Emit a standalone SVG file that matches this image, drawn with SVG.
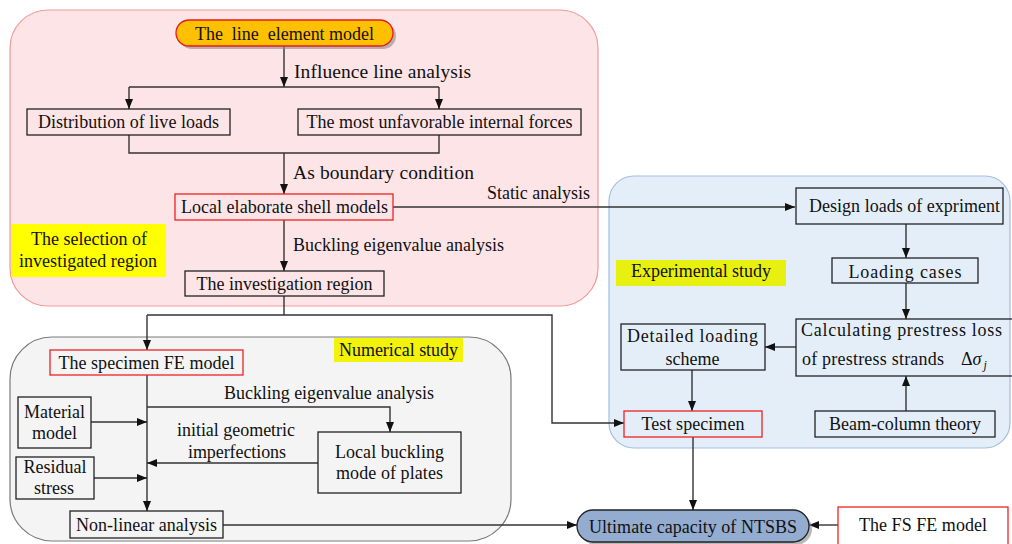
<svg xmlns="http://www.w3.org/2000/svg" width="1012" height="544" viewBox="0 0 1012 544">
<style>
text{font-family:"Liberation Serif","Times New Roman",serif;font-size:18px;fill:#111;}
.m{text-anchor:middle;}
.big{font-size:19.5px;}
.box{fill:none;stroke:#222;stroke-width:1.3;}
.wbox{fill:#f7f7f7;stroke:#222;stroke-width:1.3;}
.rbox{fill:none;stroke:#ee2222;stroke-width:1.3;}
.hl{fill:#ffff00;}
.c{fill:none;stroke:#333;stroke-width:1.4;}
.a{marker-end:url(#ah);}
</style>
<defs>
<marker id="ah" markerUnits="userSpaceOnUse" markerWidth="11" markerHeight="9" refX="10" refY="4" orient="auto">
<path d="M0,0 L10,4 L0,8 z" fill="#111"/>
</marker>
</defs>
<g id="regions">
<rect x="10" y="10" width="588" height="296" rx="38" fill="#fde4e6" stroke="#f29a9a" stroke-width="1.2"/>
<rect x="609" y="176" width="401" height="272" rx="25" fill="#e4eef8" stroke="#a4bfdf" stroke-width="1.2"/>
<rect x="10" y="337" width="501" height="204" rx="42" fill="#f4f4f4" stroke="#7a7a7a" stroke-width="1.2"/>
</g>
<g id="labels">
<rect class="hl" x="11" y="224" width="155" height="53"/>
<text class="m" x="89" y="245" textLength="116">The selection of</text>
<text class="m" x="88" y="267" textLength="138">investigated region</text>
<rect x="334" y="338" width="129" height="24" fill="#f2f20a"/>
<text class="m" x="398.5" y="356" textLength="119">Numerical study</text>
<rect x="616" y="260" width="170" height="26" fill="#e8f00f"/>
<text class="m" x="701" y="277" textLength="140">Experimental study</text>
</g>
<g id="connectors">
<path class="c a" d="M284 46 V87"/>
<path class="c" d="M129 87 H439"/>
<path class="c a" d="M129 87 V109"/>
<path class="c a" d="M439 87 V109"/>
<path class="c" d="M129 135 V153 H439 V135"/>
<path class="c a" d="M284 153 V194"/>
<path class="c a" d="M393 207 H795"/>
<path class="c a" d="M284 220 V271"/>
<path class="c" d="M284 296 V315"/>
<path class="c a" d="M147 315 H552 V423 H624"/>
<path class="c a" d="M147 315 V350"/>
<path class="c a" d="M147 375 V511"/>
<path class="c a" d="M147 407 H390 V432"/>
<path class="c a" d="M91 422 H147"/>
<path class="c a" d="M94 478 H147"/>
<path class="c a" d="M318 463 H147"/>
<path class="c a" d="M223 525 H577"/>
<path class="c a" d="M906 224 V258"/>
<path class="c a" d="M906 283 V319"/>
<path class="c a" d="M906 411 V376"/>
<path class="c a" d="M796 347 H765"/>
<path class="c a" d="M692 370 V411"/>
<path class="c a" d="M693 437 V510"/>
<path class="c a" d="M838 525 H809"/>
<text x="294" y="77.5" class="big" textLength="177">Influence line analysis</text>
<text x="293" y="178.5" class="big" textLength="181">As boundary condition</text>
<text x="487" y="199" textLength="103">Static analysis</text>
<text x="293" y="251" textLength="211">Buckling eigenvalue analysis</text>
<text x="224" y="399" textLength="210">Buckling eigenvalue analysis</text>
<text class="m" x="236" y="436" textLength="118">initial geometric</text>
<text class="m" x="237" y="458" textLength="98">imperfections</text>
</g>
<g id="n-line">
<rect x="179" y="23" width="217" height="26" rx="13" fill="#8a8a8a" opacity="0.6"/>
<rect x="176" y="20" width="217" height="26" rx="13" fill="#ffc000" stroke="#e81b1b" stroke-width="1.3"/>
<text class="m" x="284.5" y="39.5" style="white-space:pre" font-size="19" textLength="179">The  line  element model</text>
</g>
<g id="n-dist">
<rect class="box" x="27" y="109" width="203" height="26"/>
<text class="m" x="128.5" y="128" textLength="181">Distribution of live loads</text>
</g>
<g id="n-unfav">
<rect class="box" x="298" y="109" width="283" height="26"/>
<text class="m" x="439.5" y="128" textLength="266">The most unfavorable internal forces</text>
</g>
<g id="n-shell">
<rect class="rbox" x="175" y="194" width="218" height="26"/>
<text class="m" x="284.5" y="213" textLength="207">Local elaborate shell models</text>
</g>
<g id="n-region">
<rect class="box" x="185" y="271" width="199" height="25"/>
<text class="m" x="284.5" y="289.5" textLength="176">The investigation region</text>
</g>
<g id="n-specimen-fe">
<rect class="rbox" x="50" y="350" width="193" height="25"/>
<text class="m" x="146.5" y="368.5" textLength="176">The specimen FE model</text>
</g>
<g id="n-material">
<rect class="box" x="18" y="397" width="73" height="51"/>
<text class="m" x="54.5" y="418" textLength="61">Material</text>
<text class="m" x="54.5" y="439" textLength="45">model</text>
</g>
<g id="n-residual">
<rect class="box" x="16" y="457" width="78" height="42"/>
<text class="m" x="55" y="473" textLength="63">Residual</text>
<text class="m" x="54" y="494" textLength="40">stress</text>
</g>
<g id="n-local-buckling">
<rect class="box" x="318" y="432" width="143" height="61"/>
<text class="m" x="389.5" y="458" textLength="109">Local buckling</text>
<text class="m" x="389.5" y="479" textLength="107">mode of plates</text>
</g>
<g id="n-nonlinear">
<rect class="box" x="70" y="511" width="153" height="27"/>
<text class="m" x="146.5" y="531" textLength="141">Non-linear analysis</text>
</g>
<g id="n-design">
<rect class="box" x="796" y="188" width="207" height="36"/>
<text class="m" x="904.5" y="212" textLength="191">Design loads of expriment</text>
</g>
<g id="n-cases">
<rect class="box" x="832" y="258" width="146" height="25"/>
<text class="m" x="905" y="277.5" font-size="20" textLength="113">Loading cases</text>
</g>
<g id="n-calc">
<rect class="box" x="796" y="319" width="220" height="57"/>
<text x="801" y="335.5" font-size="19" textLength="201">Calculating prestress loss</text>
<text x="802" y="365" font-size="19" textLength="142">of prestress strands</text>
<text x="961" y="365" font-size="19">Δ<tspan font-style="italic">σ</tspan><tspan font-style="italic" font-size="12" dy="4" dx="2">j</tspan></text>
</g>
<g id="n-detailed">
<rect class="box" x="621" y="324" width="144" height="46"/>
<text class="m" x="692.5" y="341.5" textLength="131">Detailed loading</text>
<text class="m" x="692.5" y="365">scheme</text>
</g>
<g id="n-test">
<rect class="rbox" x="624" y="411" width="138" height="26"/>
<text class="m" x="693" y="429.5" textLength="103">Test specimen</text>
</g>
<g id="n-beam">
<rect class="box" x="815" y="411" width="180" height="26"/>
<text class="m" x="905" y="429.5" textLength="152">Beam-column theory</text>
</g>
<g id="n-ultimate">
<rect x="580" y="513" width="232" height="32" rx="16" fill="#8a8a8a" opacity="0.6"/>
<rect x="577" y="510" width="232" height="32" rx="16" fill="#93acd0" stroke="#222" stroke-width="1.3"/>
<text class="m" x="693" y="532.5" textLength="208">Ultimate capacity of NTSBS</text>
</g>
<g id="n-fs">
<rect x="838" y="507" width="170" height="50" fill="#ffffff" stroke="#ee2222" stroke-width="1.3"/>
<text class="m" x="923" y="531" textLength="128">The FS FE model</text>
</g>
</svg>
